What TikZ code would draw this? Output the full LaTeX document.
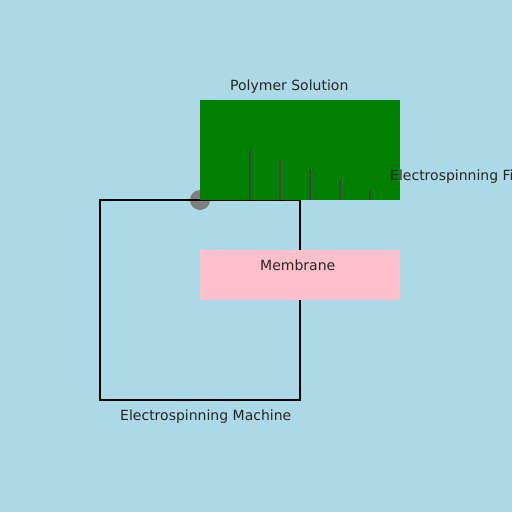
\documentclass[tikz,border=0pt]{standalone}
\usepackage{fontspec}
\setmainfont{DejaVu Sans}
\usepackage{tikz}
\usetikzlibrary{positioning}
\definecolor{skyback}{HTML}{ADD8E6}
\definecolor{solgreen}{HTML}{008000}
\definecolor{membpink}{HTML}{FFC0CB}
\definecolor{fibregray}{HTML}{444444}
\tikzstyle{label}=[anchor=base west, inner sep=0pt, font=\fontsize{14}{16}\selectfont, text=black!85]
\tikzstyle{fibre}=[draw=fibregray, line width=2pt]

\begin{document}
\begin{tikzpicture}[x=1pt, y=-1pt]

\useasboundingbox (0,0) rectangle (512,512);
\clip (0,0) rectangle (512,512);
\fill[skyback] (0,0) rectangle (512,512);

% nozzle
\fill[gray] (200,200) circle (10);

% machine
\draw[line width=2pt] (100,200) rectangle (300,400);
\node[label] (machine) at (120,420) {Electrospinning Machine};

% solution
\fill[solgreen] (200,100) rectangle (400,200);
\node[label] (solution) at (230,90) {Polymer Solution};

% fibres
\foreach \x/\top in {250/150, 280/160, 310/170, 340/180, 370/190}
  \draw[fibre] (\x,\top) -- (\x,200);
\node[label] (fibres) at (390,180) {Electrospinning Fibers};

% membrane
\fill[membpink] (200,250) rectangle (400,300);
\node[label] (membrane) at (260,270) {Membrane};

\end{tikzpicture}
\end{document}
